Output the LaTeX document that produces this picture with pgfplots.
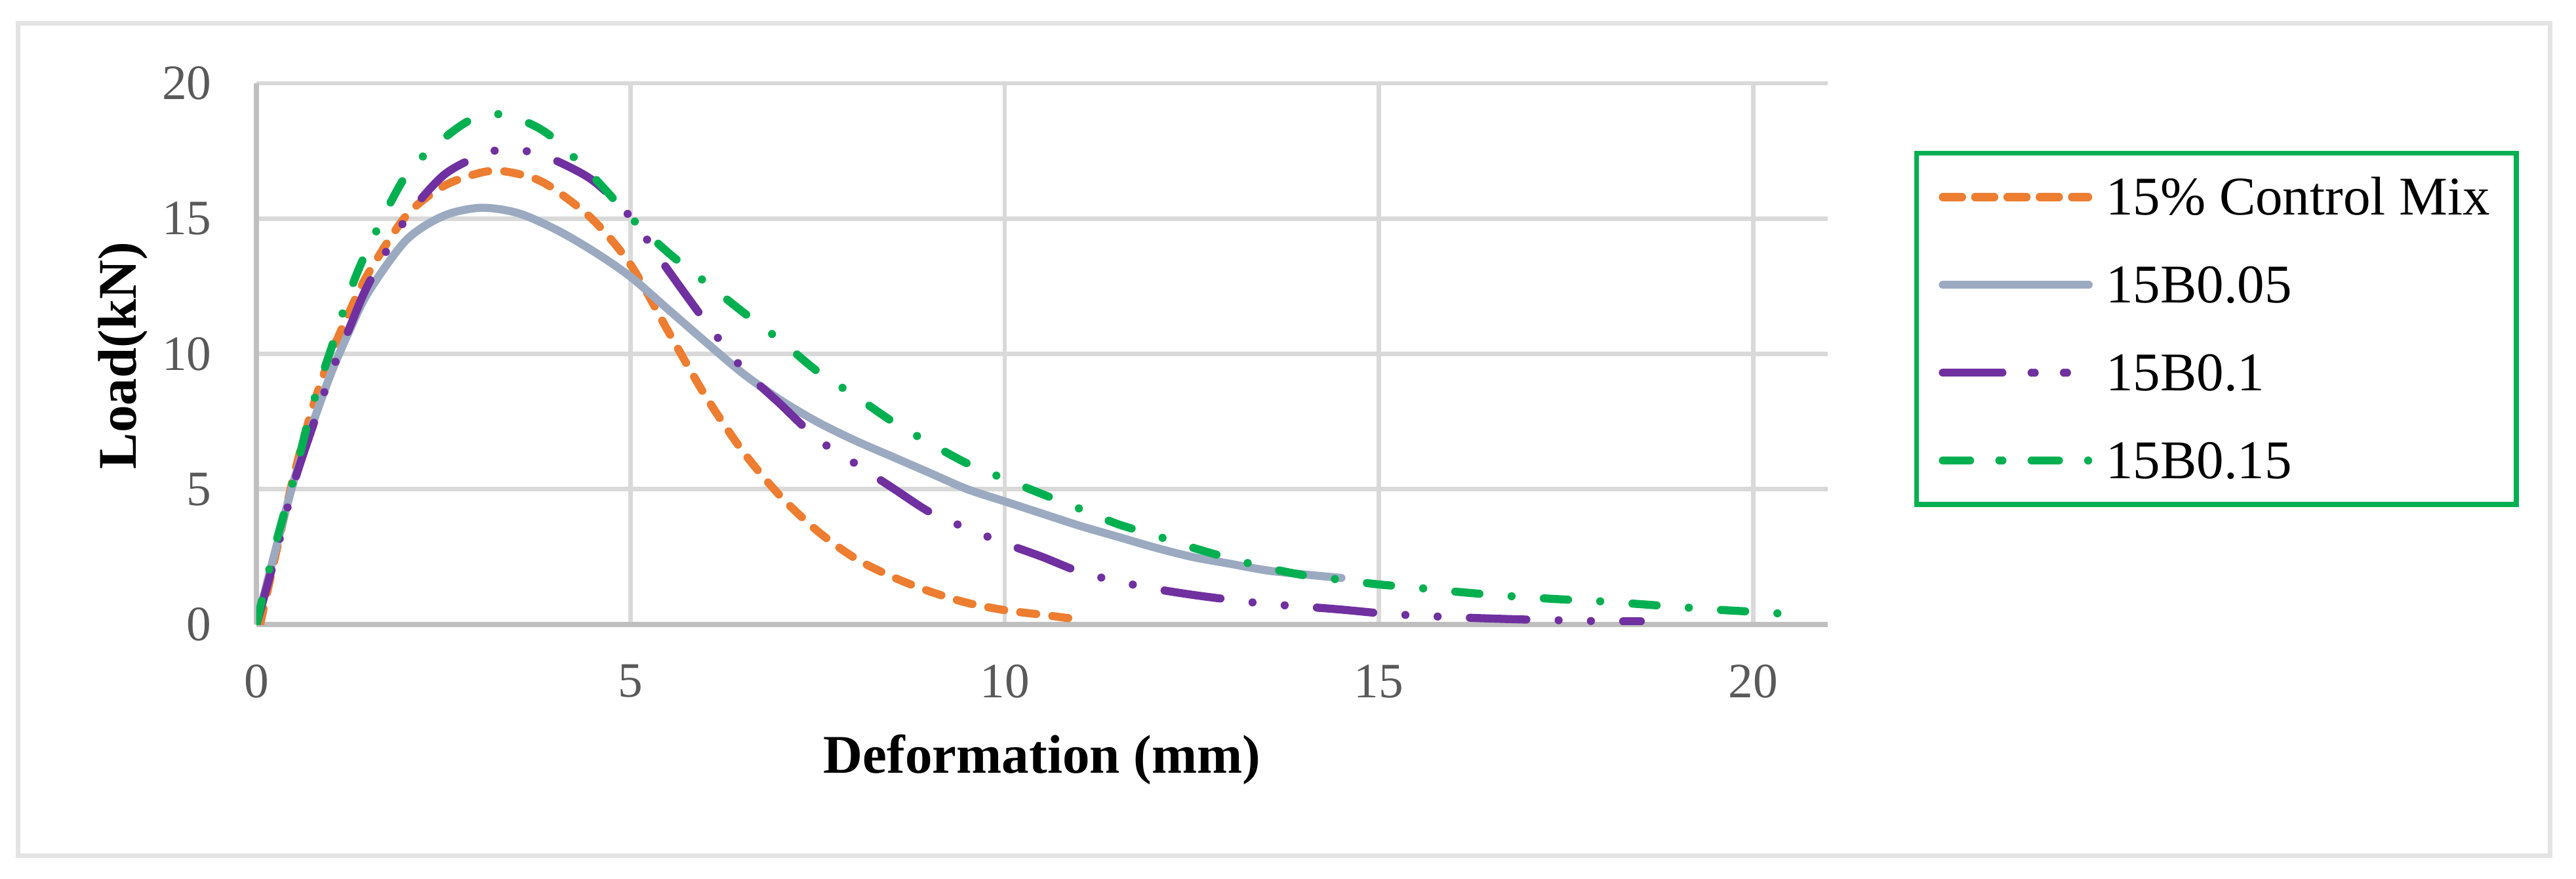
\documentclass[border=0pt]{standalone}
\usepackage{fontspec}
\setmainfont{Liberation Serif}
\usepackage{pgfplots}
\pgfplotsset{compat=1.18}
\definecolor{cOrange}{RGB}{237,125,49}
\definecolor{cGray}{RGB}{155,170,192}
\definecolor{cPurple}{RGB}{112,48,160}
\definecolor{cGreen}{RGB}{0,176,80}
\definecolor{gridgray}{RGB}{217,217,217}
\definecolor{axisgray}{RGB}{191,191,191}
\definecolor{tickgray}{RGB}{89,89,89}
\definecolor{bordergray}{RGB}{227,227,227}
\begin{document}
\begin{tikzpicture}
\useasboundingbox (-50.83pt,-50.31pt) rectangle (459.81pt,123.76pt);
\draw[bordergray, line width=0.91pt] (-47.26pt,-45.8pt) rectangle (454.66pt,119.2pt);
\begin{axis}[
  at={(0,0)}, anchor=south west,
  scale only axis, width=311.5pt, height=107.25pt,
  xmin=0, xmax=21, ymin=0, ymax=20,
  xtick={0,5,10,15,20}, ytick={0,5,10,15,20},
  axis x line*=bottom, axis y line*=left,
  axis line style={draw=axisgray, line width=1.05pt},
  grid=major,
  major grid style={draw=gridgray, line width=0.9pt},
  major tick length=0pt,
  tick style={draw=none},
  /pgf/number format/assume math mode=true,
  xticklabel style={font=\fontsize{9.8}{11}\selectfont, text=tickgray, anchor=north, inner sep=0pt, yshift=-7.8pt},
  yticklabel style={font=\fontsize{9.8}{11}\selectfont, text=tickgray, anchor=east, inner sep=0pt, xshift=-8.7pt},
  xlabel={Deformation (mm)},
  ylabel={Load(kN)},
  xlabel style={font=\bfseries\fontsize{10.8}{12}\selectfont, at={(axis description cs:0.5,-0.2751)}, anchor=base, inner sep=0pt},
  ylabel style={font=\bfseries\fontsize{10.8}{12}\selectfont, at={(axis description cs:-0.0764,0.497)}, anchor=base, inner sep=0pt},
  legend cell align=left,
  legend style={at={(axis description cs:1.0549,0.8755)}, anchor=north west,
    draw=cGreen, line width=1pt, fill=white,
    inner xsep=4.4pt, inner ysep=0pt, column sep=2.6pt, row sep=0pt,
    font=\fontsize{10.8}{12}\selectfont,
    nodes={inner sep=0pt, text depth=0pt, text height=7.1pt, minimum height=17.4pt}},
  legend image code/.code={\path (0pt,0pt) -- (28.9pt,0pt); \draw[#1, line width=1.6pt] (0.6pt,0pt) -- (28.1pt,0pt);},
]
\addplot[cOrange, line width=1.6pt, line cap=round, dash pattern=on 3.2pt off 3.2pt, smooth] coordinates {
(0.05,0) (0.25,2.5) (0.5,5.5) (0.75,8.0) (1.0,10.0) (1.25,11.6) (1.5,13.0) (2.0,15.1) (2.5,16.2) (3.0,16.7) (3.3,16.75) (3.7,16.5) (4.0,16.05) (4.5,14.95) (5.0,13.3) (5.5,10.85) (6.0,8.45) (6.5,6.4) (7.0,4.75) (7.5,3.45) (8.0,2.45) (8.5,1.76) (9.0,1.22) (9.5,0.8) (10.0,0.53) (10.5,0.36) (11.0,0.18)
};
\addlegendentry{15\% Control Mix\hspace*{0.8pt}}
\addplot[cGray, line width=1.6pt, line cap=round, smooth] coordinates {
(0,0) (0.25,2.7) (0.5,5.3) (0.75,7.4) (1.0,9.3) (1.25,10.9) (1.5,12.3) (2.0,14.2) (2.5,15.1) (3.0,15.4) (3.5,15.2) (4.0,14.6) (4.5,13.8) (5.0,12.85) (5.5,11.65) (6.0,10.45) (6.5,9.28) (7.0,8.3) (7.5,7.48) (8.0,6.8) (8.5,6.2) (9.0,5.6) (9.5,5.0) (10.0,4.55) (10.5,4.1) (11.0,3.65) (11.5,3.25) (12.0,2.85) (12.5,2.5) (13.0,2.25) (13.5,2.0) (14.0,1.85) (14.5,1.72)
};
\addlegendentry{15B0.05}
\addplot[cPurple, line width=1.6pt, line cap=round, dash pattern=on 11.2pt off 6.4pt on 0pt off 6.4pt on 0pt off 6.4pt, smooth] coordinates {
(0,0) (0.25,2.5) (0.5,5.2) (0.75,7.3) (1.0,9.3) (1.25,11.0) (1.5,12.6) (2.0,15.0) (2.5,16.6) (3.0,17.35) (3.3,17.55) (3.7,17.45) (4.0,17.15) (4.5,16.4) (5.0,15.05) (5.5,13.1) (6.0,11.2) (6.5,9.45) (7.0,8.15) (7.5,6.85) (8.0,5.95) (8.5,5.05) (9.0,4.15) (9.5,3.55) (10.0,3.0) (10.5,2.5) (11.0,1.95) (11.5,1.6) (12.0,1.32) (12.5,1.1) (13.0,0.92) (13.5,0.76) (14.0,0.66) (14.5,0.55) (15.0,0.42) (15.5,0.33) (16.0,0.27) (16.5,0.22) (17.0,0.18) (17.5,0.15) (18.0,0.12) (18.5,0.12)
};
\addlegendentry{15B0.1}
\addplot[cGreen, line width=1.6pt, line cap=round, dash pattern=on 4.8pt off 6.4pt on 0pt off 6.4pt, smooth] coordinates {
(0,0) (0.1,1.2) (0.25,2.9) (0.5,5.4) (0.75,8.1) (1.0,10.2) (1.25,12.3) (1.5,13.95) (2.0,16.6) (2.5,17.95) (2.9,18.7) (3.3,18.85) (3.7,18.45) (4.0,17.9) (4.5,16.55) (5.0,15.05) (5.5,13.75) (6.0,12.65) (6.5,11.55) (7.0,10.5) (7.5,9.35) (8.0,8.45) (8.5,7.5) (9.0,6.7) (9.5,5.95) (10.0,5.38) (10.5,4.82) (11.0,4.28) (11.5,3.72) (12.0,3.3) (12.5,2.85) (13.0,2.45) (13.5,2.1) (14.0,1.82) (14.5,1.65) (15.0,1.48) (15.5,1.36) (16.0,1.22) (16.5,1.1) (17.0,1.0) (17.5,0.92) (18.0,0.85) (18.5,0.75) (19.0,0.65) (19.5,0.55) (20.0,0.47) (20.4,0.4)
};
\addlegendentry{15B0.15}
\end{axis}
\end{tikzpicture}
\end{document}
